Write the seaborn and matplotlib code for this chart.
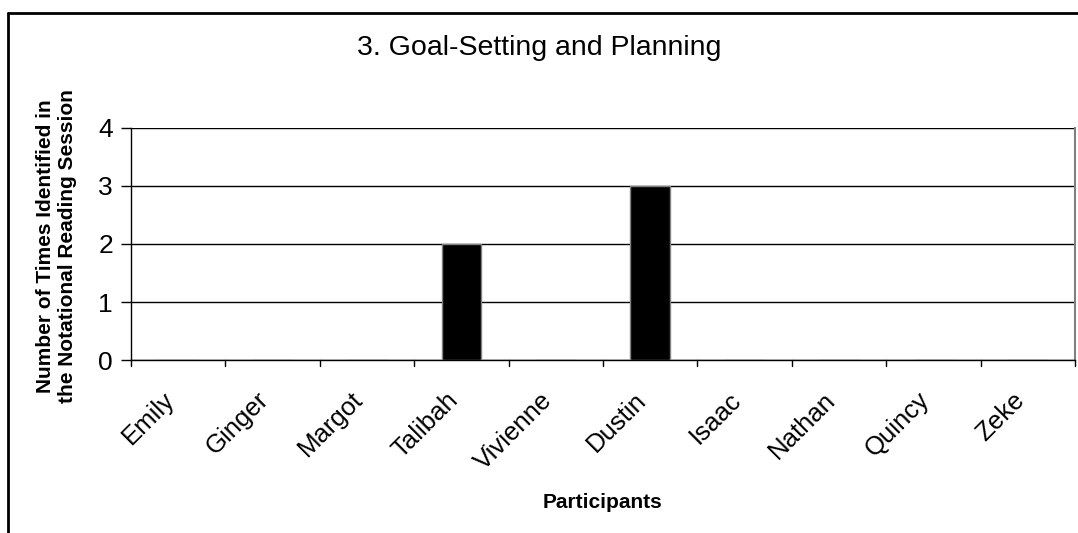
import matplotlib
matplotlib.use("Agg")
import matplotlib.pyplot as plt
import matplotlib.transforms as mtransforms
import seaborn as sns
import pandas as pd
from matplotlib.lines import Line2D

# ---- data ----
participants = ["Emily", "Ginger", "Margot", "Talibah", "Vivienne",
                "Dustin", "Isaac", "Nathan", "Quincy", "Zeke"]
counts = [0, 0, 0, 2, 0, 3, 0, 0, 0, 0]
y_ticks = [0, 1, 2, 3, 4]

df = pd.DataFrame({"participant": participants, "count": counts})

sns.set_theme(style="white")
plt.rcParams["font.family"] = ["Liberation Sans", "DejaVu Sans"]
plt.rcParams.update({"text.color": "black", "axes.labelcolor": "black",
                     "xtick.color": "black", "ytick.color": "black"})

fig = plt.figure(figsize=(10.78, 5.33), dpi=100)
ax = fig.add_axes([131 / 1078, 1 - 360 / 533, (1075 - 131) / 1078, (360 - 128) / 533])

sns.barplot(data=df, x="participant", y="count", color="black",
            edgecolor="#808080", linewidth=1, width=0.42, ax=ax, zorder=3)

ax.set_ylim(0, 4)
ax.set_xlim(-0.5, len(participants) - 0.5)
ax.set_yticks(y_ticks)
ax.set_yticklabels([str(t) for t in y_ticks], fontsize=19)
ax.yaxis.grid(True, color="black", linewidth=1, zorder=0)
ax.set_axisbelow(True)

# x ticks between categories
ax.set_xticks(range(len(participants)))
ax.set_xticklabels(participants, rotation=45, ha="right", rotation_mode="anchor", fontsize=18.5)
ax.tick_params(axis="x", length=0, pad=20)
ax.tick_params(axis="y", left=True, length=7, width=1, color="black", pad=6)
shift = mtransforms.ScaledTranslation(-16 / 100, 0, fig.dpi_scale_trans)
for lbl in ax.get_xticklabels():
    lbl.set_transform(lbl.get_transform() + shift)
for i in range(len(participants) + 1):
    ax.plot([i - 0.5, i - 0.5], [0, -0.1], color="black", lw=1, clip_on=False,
            transform=ax.transData)

for side in ["left", "bottom"]:
    ax.spines[side].set_color("black")
    ax.spines[side].set_linewidth(1)
ax.spines["top"].set_visible(False)
ax.spines["right"].set_color("#808080")
ax.spines["right"].set_linewidth(1.5)

ax.set_xlabel("Participants", fontsize=15, fontweight="bold")
ax.xaxis.set_label_coords(0.5, -(502 - 360) / 232)
ax.xaxis.label.set_va("center")
ax.set_ylabel("Number of Times Identified in\nthe Notational Reading Session",
              fontsize=15, fontweight="bold")
ax.yaxis.set_label_coords(-(131 - 57) / 944, 0.49)
ax.yaxis.label.set_va("center")
fig.text(0.5, 1 - 48 / 533, "3. Goal-Setting and Planning", ha="center", va="center",
         fontsize=20.5)

# outer frame (left and top edges visible)
fig.add_artist(Line2D([8 / 1078, 8 / 1078], [0, 1 - 13 / 533], color="black", lw=2,
                      transform=fig.transFigure))
fig.add_artist(Line2D([8 / 1078, 1], [1 - 13 / 533, 1 - 13 / 533], color="black", lw=2,
                      transform=fig.transFigure))

fig.savefig("out.png", dpi=100)
